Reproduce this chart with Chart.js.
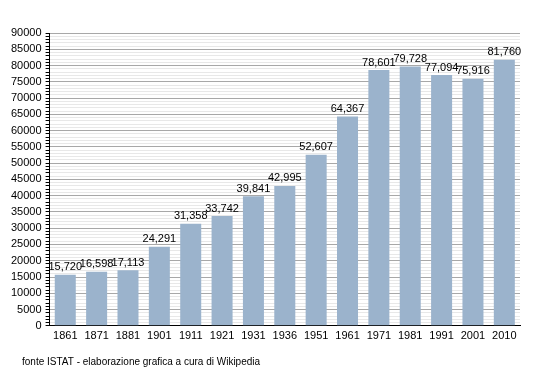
<!DOCTYPE html>
<html>
<head>
<meta charset="utf-8">
<script src="https://cdn.jsdelivr.net/npm/chart.js@4"></script>
<style>
  html, body { margin: 0; padding: 0; background: #fff; }
  #wrap { width: 550px; height: 373px; position: relative; }
</style>
</head>
<body>
<div id="wrap"><canvas id="popChart"></canvas></div>
<script>
const years = ['1861', '1871', '1881', '1901', '1911', '1921', '1931', '1936', '1951', '1961', '1971', '1981', '1991', '2001', '2010'];
const population = [15720, 16598, 17113, 24291, 31358, 33742, 39841, 42995, 52607, 64367, 78601, 79728, 77094, 75916, 81760];
const sourceNote = 'fonte ISTAT - elaborazione grafica a cura di Wikipedia';

const FONT = '"Liberation Sans", Arial, sans-serif';

// numbers above each bar
const valueLabels = {
    id: 'valueLabels',
    afterDatasetsDraw(chart) {
        const c = chart.ctx;
        const meta = chart.getDatasetMeta(0);
        c.save();
        c.font = '11px ' + FONT;
        c.fillStyle = '#000';
        c.textAlign = 'center';
        c.textBaseline = 'bottom';
        meta.data.forEach((bar, i) => {
            c.fillText(population[i].toLocaleString('en-US'), bar.x, bar.y - 2);
        });
        c.restore();
    }
};

// source line at the bottom
const footNote = {
    id: 'footNote',
    afterDraw(chart) {
        const c = chart.ctx;
        c.save();
        c.font = '10px ' + FONT;
        c.fillStyle = '#000';
        c.textBaseline = 'middle';
        c.fillText(sourceNote, 22, 362);
        c.restore();
    }
};

new Chart(document.getElementById('popChart'), {
    type: 'bar',
    data: {
        labels: years,
        datasets: [{
            data: population,
            backgroundColor: '#9bb3cc',
            borderWidth: 0,
            barPercentage: 0.67,
            categoryPercentage: 1
        }]
    },
    options: {
        responsive: true,
        maintainAspectRatio: false,
        animation: false,
        layout: { padding: { top: 33, right: 30, bottom: 26, left: 7 } },
        plugins: {
            legend: { display: false },
            tooltip: { enabled: false }
        },
        scales: {
            x: {
                grid: { display: true, drawOnChartArea: false, drawTicks: false },
                border: { color: '#000', width: 1 },
                ticks: { color: '#000', font: { family: FONT, size: 11 }, padding: 4, maxRotation: 0 }
            },
            y: {
                min: 0,
                max: 90000,
                grid: {
                    color: ctx => (ctx.tick && ctx.tick.value % 5000 === 0) ? '#a8a8a8' : '#e8e8e8',
                    tickColor: '#000',
                    tickLength: 4
                },
                border: { color: '#000', width: 1 },
                ticks: {
                    stepSize: 1000,
                    autoSkip: false,
                    color: '#000',
                    padding: 4,
                    font: { family: FONT, size: 11 },
                    callback: v => v % 5000 === 0 ? String(v) : ''
                }
            }
        }
    },
    plugins: [valueLabels, footNote]
});
</script>
</body>
</html>
